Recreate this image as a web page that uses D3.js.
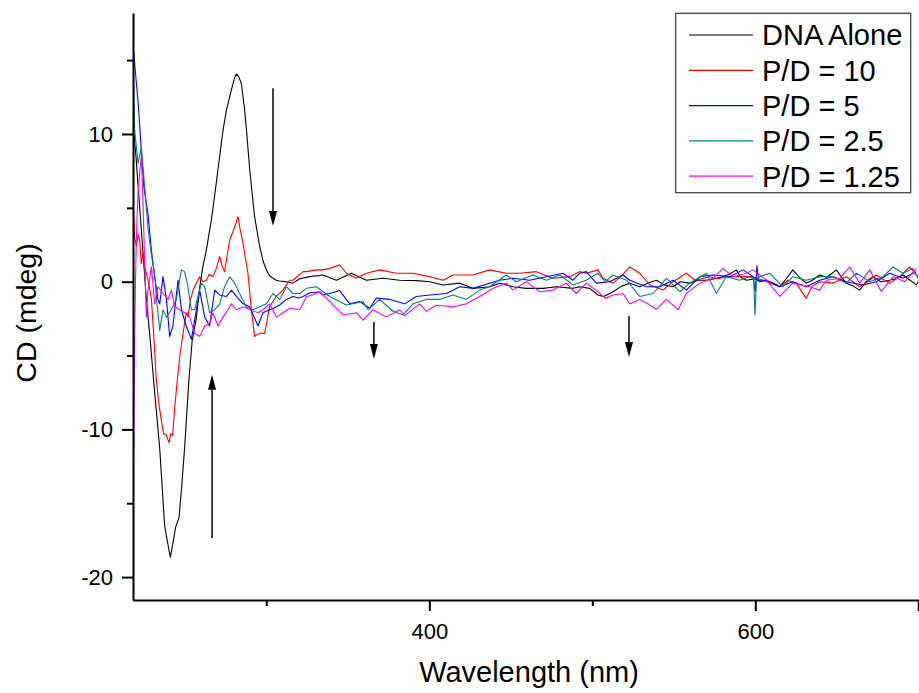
<!DOCTYPE html>
<html>
<head>
<meta charset="utf-8">
<script src="https://cdn.jsdelivr.net/npm/d3@7"></script>
<style>
  body { margin: 0; background: #fff; }
  text { font-family: Arial, "Liberation Sans", sans-serif; fill: #000; }
</style>
</head>
<body>
<div id="cd-spectra"></div>
<script>
// CD spectra, each point is [wavelength (nm), CD (mdeg)]
var dnaAlone = [
  [218.3,10.5],[220,8.5],[222,5.5],[224,2.5],[226.4,-1.2],[228.4,-3.5],[231.5,-7.5],[234.6,-11.3],
  [237.6,-16.5],[239,-17.4],[241.1,-18.66],[242.7,-17.7],[244.4,-16.6],[246.4,-16.0],[247.9,-14.1],
  [249.9,-11.2],[252.5,-6.65],[254.5,-4.0],[257,-2.5],[259,-0.5],[261,1.0],[263,2.0],[266.3,4.2],
  [268.5,6.0],[271.4,8.5],[273.5,10.3],[275.5,11.6],[278.6,13.0],[280.5,13.8],[281.6,14.06],[283,13.9],
  [284.7,13.4],[286.5,11.8],[287.8,10.3],[289.8,7.6],[292.8,4.4],[295.9,2.4],[298,1.4],[300,0.8],
  [302,0.4],[304.1,0.23],[306,0.1],[308,0.05],[312.3,0.0],[316.3,-0.1],[320.5,0.2],[326.6,0.34],
  [334.7,0.45],[343,0.1],[352.2,0.57],[361.4,0.1],[371.6,0.23],[381.8,0.1],[392,0.07],[400.2,0],
  [408.4,-0.22],[418.6,-0.1],[426.8,-0.45],[437,-0.34],[443.2,-0.1],[451.3,-0.34],[459.5,-0.45],
  [469.7,-0.45],[478,-0.34],[488.1,-0.45],[492.2,-0.34],[498.4,-0.45],[503.4,-0.9],[507,-1.0],
  [512.7,-0.68],[518,-0.3],[523,-0.1],[529.1,-0.34],[534,-0.1],[539.3,0.1],[544,-0.2],[549.5,-0.34],
  [554,0.0],[559.7,-0.1],[565,0.1],[570,0.1],[575,0.2],[580.2,0.34],[584,0.5],[588.4,0.8],[591,0.3],
  [594.5,0.1],[600,0.2],[603,0.0],[606.8,0.1],[611,-0.1],[615,-0.34],[619,0.2],[623,0.8],[627,0.3],
  [631.2,-0.1],[635,0.1],[639.5,0.45],[644,0.3],[649.7,0.8],[653,0.3],[655.8,-0.1],[660,-0.3],
  [664,-0.57],[668,0.0],[672.2,0.34],[677,0.0],[682.4,0.1],[686,0.2],[690.6,0.45],[695,0.1],
  [698.8,-0.22],[700,0.0]
];
var pd10 = [
  [218.2,5.5],[219.2,3.0],[220.3,2.4],[221.3,3.2],[222.3,2.8],[223.3,1.2],[224.3,1.9],[225.5,1.0],
  [227,0.3],[228.5,-0.5],[229.5,-1.2],[231,-3.8],[232.5,-6.65],[234,-8.2],[235.6,-9.4],[237,-10.3],
  [238.7,-10.4],[240.3,-10.9],[241.3,-10.3],[242.5,-10.4],[243.8,-8.5],[245.4,-6.65],[246.8,-5.1],
  [248.9,-3.5],[250.9,-2.1],[251.9,-2.4],[253.5,-1.2],[255,-0.6],[257.1,-0.1],[259.1,0.34],[261,0.0],
  [263.2,0.1],[265,0.5],[267.3,0.34],[269,0.8],[271.4,1.7],[273,1.0],[274.4,0.68],[276,1.8],
  [277.5,2.8],[280.6,3.7],[282.6,4.4],[284,3.5],[285.7,2.6],[288.7,0.57],[290.8,-1.9],[292.8,-3.7],
  [295.9,-3.5],[299,-3.5],[302,-1.7],[306,-1.0],[310.2,-0.57],[314.3,0.1],[316.3,0.1],[322.5,0.68],
  [324.6,0.68],[330.7,0.8],[334.7,0.8],[338.9,0.9],[345,1.13],[349.1,0.57],[355.2,0.23],[361.4,0.57],
  [369.5,0.8],[379.8,0.57],[390,0.57],[400.2,0.34],[408.4,0.1],[414.5,0.45],[426.8,0.45],[437,0.8],
  [447.2,0.57],[455.4,0.57],[465.6,0.68],[475.8,0.23],[486.1,0.34],[492.2,0.68],[496.3,0.57],
  [503.4,0.8],[506.6,0.23],[512.7,-0.1],[517,0.3],[523,1.0],[529.1,0.57],[535.2,-0.22],[543.4,-0.57],
  [549.5,0],[557.6,0.57],[563,0.1],[572,0.34],[577,0.2],[582.2,0.34],[590.4,0.34],[598.6,0.34],
  [606.8,0],[615,-0.34],[620,0.1],[625.1,-0.1],[631.2,-1.13],[635,-0.3],[639.5,0],[647.6,-0.1],
  [655.8,0.34],[664,-0.34],[669,0.0],[674.2,0.45],[682.4,-0.1],[688.6,0.34],[694.7,1.0],[699.8,0.34]
];
var pd5 = [
  [218.6,15.6],[220.3,13.4],[221.3,12.2],[223.3,8.9],[224.9,6.4],[227.4,4.6],[229.5,2.1],[231.5,0.34],
  [233.5,-1.2],[234.6,-1.5],[236.6,0.34],[238.7,-1.2],[240.7,-3.7],[242.7,-3.0],[245.8,0.1],
  [247.9,-1.9],[250.9,-3.0],[254,-3.9],[257.1,-1.9],[259.1,-0.57],[262.2,-2.4],[265.2,-3.0],
  [268.3,-0.57],[271.4,-0.9],[275.5,-1.0],[278.6,-0.57],[281.6,-1.0],[285.7,-1.5],[289.8,-1.7],
  [294.9,-3.0],[297.9,-2.1],[302,-1.9],[306.2,-1.7],[308.2,-1.58],[312.3,-1.2],[316.3,-1.0],
  [320,-1.1],[322.5,-1.0],[326.6,-0.75],[332.7,-0.7],[334.7,-0.9],[338.9,-0.8],[345,-0.6],
  [351.1,-1.5],[357.3,-1.35],[363.4,-1.8],[367.5,-1.1],[375.7,-1.2],[384.9,-1.5],[392,-1.0],
  [400.2,-0.9],[410.5,-0.8],[418.6,-0.34],[426.8,-0.45],[437,-0.1],[443.2,0.1],[451.3,0.23],
  [461.6,0.1],[471.8,0.34],[482,0.57],[488.1,0.1],[492.2,0.57],[496.3,0.68],[502.4,-0.1],[510.6,0],
  [518.8,0.45],[523,0.1],[533.2,-0.34],[541.4,-0.34],[549.5,0.1],[557.7,-0.57],[565.9,0.34],
  [574,0.45],[584.3,0.34],[592.5,0.8],[598.6,0.34],[600,-0.68],[601,1.08],[602,0.1],[606.8,0.1],
  [615,-0.34],[623,0],[631.2,-0.34],[639.5,0.1],[647.6,0.34],[655.8,0],[666,-0.22],[674.2,0],
  [682.4,0.57],[690.6,0.23],[698.8,0.68]
];
var pd25 = [
  [218.2,15.2],[219.2,10.3],[221.3,8.0],[223.3,9.1],[225.4,6.4],[227.5,3.5],[229.5,1.8],[231.5,0.5],
  [232.5,-1.0],[234.6,-3.3],[236.6,-1.9],[238.7,-2.4],[241.7,-1.9],[244.8,-1.2],[247.9,0.8],
  [249.9,0.68],[251.9,-0.34],[254,-1.9],[256,-1.9],[258.1,-1.0],[260.1,-0.1],[262.2,-0.34],
  [265.2,-2.1],[268.3,-1.9],[271.4,-1.5],[274.4,-0.34],[277.5,0.34],[280.6,-0.1],[283.6,-0.8],
  [287.7,-1.7],[291.8,-1.9],[295.9,-1.7],[300,-1.5],[304.1,-0.8],[308.2,-1.2],[312.3,-0.34],
  [316.3,-0.8],[320.5,-0.8],[324.6,-0.45],[330.7,-0.34],[338.9,-1.0],[349.1,-1.58],[359.3,-1.35],
  [362.4,-1.9],[369.5,-1.2],[377.7,-2.0],[383.9,-2.25],[390,-1.5],[398.1,-1.2],[406.3,-1.2],
  [414.5,-0.9],[422.7,-1.2],[430.9,-0.57],[437,-0.34],[447.2,0.45],[453.3,0],[463.6,0.45],
  [471.8,0.1],[480,0.45],[488.1,-0.22],[496.3,0.1],[503.4,0.57],[508,0],[512.7,0.45],[521,0.1],
  [529.1,-1.0],[537.3,-0.8],[545.5,0.23],[553.7,-0.68],[559.7,-0.1],[570,0.57],[576.1,-0.8],
  [582.2,0.34],[590.4,0.1],[596.5,0.34],[599,0.2],[599.8,-2.25],[600.6,0.0],[602.7,0.34],
  [608.8,0.57],[617,-0.34],[623,0.34],[631.2,0.1],[639.5,0.34],[647.6,0.34],[655.8,-0.1],[662,0.57],
  [670.2,0],[678.3,0.34],[684.5,1.0],[690.6,0.57],[696.7,0.9],[699.8,0.23]
];
var pd125 = [
  [218.2,-17],[218.6,-12],[219.1,-5],[219.7,0],[220.4,3.5],[221.3,6.0],[222.3,7.4],[223.3,8.5],
  [224.3,5.5],[225.2,2.0],[226.4,-2.4],[227.4,-0.57],[229.5,1.0],[231.5,-1.5],[233.5,-0.34],
  [236.6,-0.8],[239.7,-1.2],[241.7,-0.57],[243.8,-1.7],[246.8,-1.9],[249.9,-2.1],[253,-2.4],
  [256,-3.5],[259.1,-3.7],[262.2,-3.0],[265.2,-2.8],[267.3,-2.1],[270.3,-3.0],[273.4,-2.4],
  [276.5,-1.9],[278.6,-1.5],[281.6,-1.9],[285.7,-1.7],[289.8,-1.9],[294.9,-2.1],[297.9,-1.9],
  [302,-1.5],[306.2,-2.4],[310.2,-2.1],[314.3,-1.8],[320.5,-1.9],[324.6,-1.0],[328.6,-0.9],
  [332.7,-0.68],[338.9,-1.35],[347,-2.25],[355.2,-2.1],[359.3,-2.6],[365.4,-1.9],[373.6,-2.4],
  [381.8,-1.9],[384.9,-2.3],[394,-1.5],[398.1,-2.0],[404.3,-1.6],[414.5,-1.7],[422.7,-1.5],
  [430.9,-1.0],[439.1,-0.45],[447.2,-0.1],[451.3,-0.57],[459.5,0],[467.7,-0.68],[475.8,-0.57],
  [484,-0.1],[490.1,-0.8],[496.3,-0.1],[503.4,-0.68],[508,-1.13],[512.7,-0.9],[518.8,-0.8],
  [523,-1.5],[529.1,-1.2],[534,-1.5],[539.3,-1.87],[545.5,-1.2],[552.6,-1.9],[557.7,-0.8],
  [565.9,-0.1],[574,0.23],[580.2,0.9],[586.3,0.34],[594.5,0.57],[598.6,0.8],[606.8,0.1],[615,-1.0],
  [623,-0.1],[633.3,-0.34],[639.5,-0.57],[643.6,0.1],[651.7,0.23],[657.9,1.0],[664,-0.1],[670.2,0.8],
  [677.3,-0.68],[684.5,0.34],[691.7,0],[698.8,0.9]
];

var seriesNames = ["DNA Alone", "P/D = 10", "P/D = 5", "P/D = 2.5", "P/D = 1.25"];
var seriesColors = ["#000000", "#ff0000", "#0000ff", "#008080", "#ff00ff"];
var allSeries = [dnaAlone, pd10, pd5, pd25, pd125];

// axis ticks
var xMajorTicks = [400, 600, 700];
var xMinorTicks = [300, 500];
var yMajorTicks = [-20, -10, 0, 10];
var yMinorTicks = [-15, -5, 5, 15];

// annotation arrows: wavelength, start CD, end CD (arrow head at end)
var arrowWl = [304.1, 266.7, 366, 522.5];
var arrowFrom = [13.1, -17.35, -2.73, -2.32];
var arrowTo = [3.77, -6.3, -5.23, -5.1];

var W = 919, H = 693;
var plot = {left: 133, right: 918.3, top: 13, bottom: 600};

var svg = d3.select("#cd-spectra")
  .append("svg")
    .attr("width", W)
    .attr("height", H);

var x = d3.scaleLinear()
  .domain([218.2, 700])
  .range([plot.left, plot.right]);

var y = d3.scaleLinear()
  .domain([-21.55, 18.19])
  .range([plot.bottom, plot.top]);

svg.append("clipPath")
    .attr("id", "plot-clip")
  .append("rect")
    .attr("x", plot.left)
    .attr("y", plot.top)
    .attr("width", plot.right - plot.left + 1)
    .attr("height", plot.bottom - plot.top);

// spectra
var line = d3.line()
  .x(function(d) { return x(d[0]) })
  .y(function(d) { return y(d[1]) });

svg.append("g")
    .attr("clip-path", "url(#plot-clip)")
  .selectAll("path")
  .data(allSeries)
  .enter()
  .append("path")
    .attr("fill", "none")
    .attr("stroke", function(d, i) { return seriesColors[i] })
    .attr("stroke-width", 1.1)
    .attr("stroke-linejoin", "round")
    .attr("d", line);

// X axis
svg.append("g")
  .attr("transform", "translate(0," + plot.bottom + ")")
  .call(d3.axisBottom(x)
    .tickValues(xMajorTicks)
    .tickFormat(function(d) { return d === 700 ? "" : String(d) })
    .tickSize(11)
    .tickSizeOuter(0)
    .tickPadding(12));
svg.append("g")
  .attr("transform", "translate(0," + plot.bottom + ")")
  .call(d3.axisBottom(x).tickValues(xMinorTicks).tickSize(6).tickSizeOuter(0).tickFormat(""))
  .select(".domain").remove();

// Y axis (plain hyphen minus like the original)
svg.append("g")
  .attr("transform", "translate(" + plot.left + ",0)")
  .call(d3.axisLeft(y)
    .tickValues(yMajorTicks)
    .tickFormat(function(d) { return String(d) })
    .tickSize(11)
    .tickSizeOuter(0)
    .tickPadding(9));
svg.append("g")
  .attr("transform", "translate(" + plot.left + ",0)")
  .call(d3.axisLeft(y).tickValues(yMinorTicks).tickSize(6).tickSizeOuter(0).tickFormat(""))
  .select(".domain").remove();

svg.selectAll(".domain, .tick line")
  .attr("stroke", "#000")
  .attr("stroke-width", 2);
svg.selectAll(".tick text")
  .style("font-size", "22px")
  .style("font-family", "Arial, 'Liberation Sans', sans-serif");

// axis titles
svg.append("text")
  .attr("x", 529)
  .attr("y", 682)
  .attr("text-anchor", "middle")
  .style("font-size", "29px")
  .text("Wavelength (nm)");

svg.append("text")
  .attr("transform", "translate(36,313) rotate(-90)")
  .attr("text-anchor", "middle")
  .style("font-size", "28.5px")
  .text("CD (mdeg)");

// arrows
var headLen = 15, headHalf = 4;
arrowWl.forEach(function(wl, i) {
  var ax = x(wl), y0 = y(arrowFrom[i]), y1 = y(arrowTo[i]);
  var dir = y1 > y0 ? 1 : -1;
  svg.append("line")
    .attr("x1", ax).attr("x2", ax)
    .attr("y1", y0).attr("y2", y1 - dir * headLen)
    .attr("stroke", "#000")
    .attr("stroke-width", 1.5);
  svg.append("path")
    .attr("d", "M" + ax + "," + y1 +
               "L" + (ax - headHalf) + "," + (y1 - dir * headLen) +
               "L" + (ax + headHalf) + "," + (y1 - dir * headLen) + "Z")
    .attr("fill", "#000");
});

// legend
var legend = svg.append("g");
legend.append("rect")
  .attr("x", 675.7)
  .attr("y", 13.3)
  .attr("width", 235)
  .attr("height", 179.4)
  .attr("fill", "#fff")
  .attr("stroke", "#444")
  .attr("stroke-width", 1.3);

var rows = legend.selectAll("g.row")
  .data(seriesNames)
  .enter()
  .append("g")
    .attr("class", "row")
    .attr("transform", function(d, i) { return "translate(0," + (35 + i * 35.3) + ")" });

rows.append("line")
  .attr("x1", 689).attr("x2", 753)
  .attr("stroke", function(d, i) { return seriesColors[i] })
  .attr("stroke-width", 1.2);

rows.append("text")
  .attr("x", 762)
  .attr("dy", "0.36em")
  .style("font-size", "29px")
  .text(function(d) { return d });
</script>
</body>
</html>
